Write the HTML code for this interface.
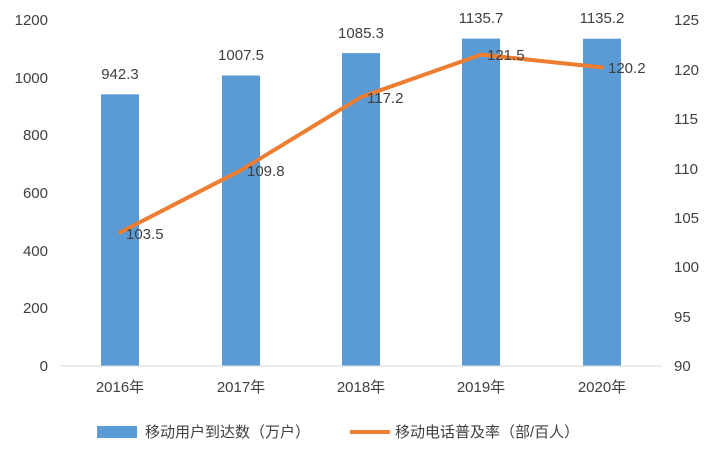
<!DOCTYPE html>
<html><head><meta charset="utf-8"><style>
html,body{margin:0;padding:0;background:#fff;}
svg text{font-family:"Liberation Sans","Noto Sans CJK SC",sans-serif;fill:#404040;font-size:15px;}
</style></head><body>
<svg width="715" height="459" viewBox="0 0 715 459" xmlns="http://www.w3.org/2000/svg">
<rect width="715" height="459" fill="#fff"/>
<!-- left axis labels -->
<g text-anchor="end">
<text x="48" y="25">1200</text>
<text x="48" y="83">1000</text>
<text x="48" y="140">800</text>
<text x="48" y="198">600</text>
<text x="48" y="256">400</text>
<text x="48" y="313">200</text>
<text x="48" y="371">0</text>
</g>
<!-- right axis labels -->
<g text-anchor="start">
<text x="674" y="25">125</text>
<text x="674" y="75">120</text>
<text x="674" y="124">115</text>
<text x="674" y="174">110</text>
<text x="674" y="223">105</text>
<text x="674" y="272">100</text>
<text x="674" y="322">95</text>
<text x="674" y="371">90</text>
</g>
<!-- bars -->
<g fill="#5b9bd5">
<rect x="101" y="94.3" width="38" height="271.7"/>
<rect x="222" y="75.5" width="38" height="290.5"/>
<rect x="342" y="53.1" width="38" height="312.9"/>
<rect x="462" y="38.6" width="38" height="327.4"/>
<rect x="583" y="38.7" width="38" height="327.3"/>
</g>
<line x1="60" y1="366" x2="662" y2="366" stroke="#d9d9d9" stroke-width="1"/>
<!-- bar labels -->
<g text-anchor="middle">
<text x="120" y="79">942.3</text>
<text x="241" y="60">1007.5</text>
<text x="361" y="38">1085.3</text>
<text x="481" y="23">1135.7</text>
<text x="602" y="23">1135.2</text>
</g>
<!-- line -->
<polyline points="120,232.5 241,170.2 361,97.1 481,54.6 602,67.4" fill="none" stroke="#ed7d31" stroke-width="4" stroke-linejoin="round" stroke-linecap="round"/>
<g text-anchor="start">
<text x="126" y="239">103.5</text>
<text x="247" y="176">109.8</text>
<text x="367" y="103">117.2</text>
<text x="487" y="60">121.5</text>
<text x="608" y="73">120.2</text>
</g>
<!-- x labels -->
<g text-anchor="middle">
<text x="120" y="392">2016年</text>
<text x="241" y="392">2017年</text>
<text x="361" y="392">2018年</text>
<text x="481" y="392">2019年</text>
<text x="602" y="392">2020年</text>
</g>
<!-- legend -->
<rect x="97" y="426" width="40" height="12" fill="#5b9bd5"/>
<text x="145" y="437">移动用户到达数（万户）</text>
<line x1="350" y1="432" x2="390" y2="432" stroke="#ed7d31" stroke-width="4"/>
<text x="395" y="437">移动电话普及率（部/百人）</text>
</svg>
</body></html>
